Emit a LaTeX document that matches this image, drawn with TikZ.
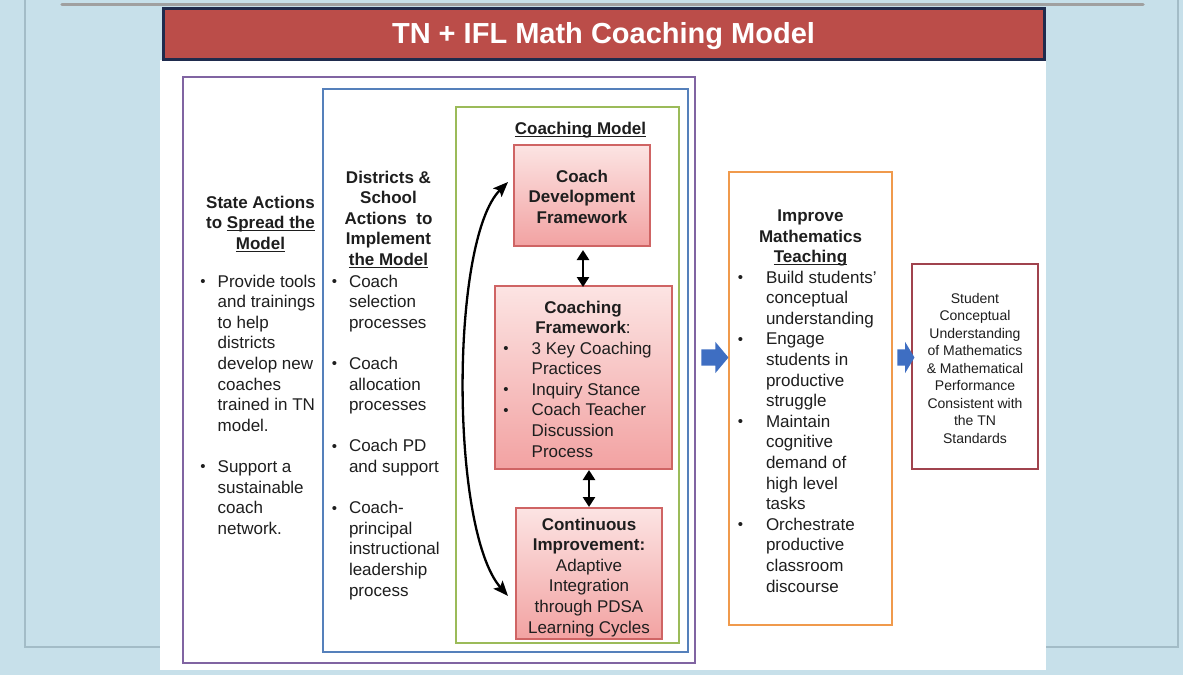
\documentclass[tikz,border=0pt]{standalone}
\usepackage{fontspec}
\setmainfont{Liberation Sans}
\usetikzlibrary{arrows.meta,shapes.arrows,calc}
\definecolor{bg}{HTML}{C7E0EA}
\definecolor{framel}{HTML}{A3BCC7}
\definecolor{topbar}{HTML}{A0A0A0}
\definecolor{titlered}{HTML}{BB4D49}
\definecolor{navy}{HTML}{1F2B4D}
\definecolor{purplef}{HTML}{8064A2}
\definecolor{bluef}{HTML}{5580BB}
\definecolor{greenf}{HTML}{9BBB59}
\definecolor{orangef}{HTML}{F09A4C}
\definecolor{maroonf}{HTML}{A0434D}
\definecolor{pinkE}{HTML}{CF6464}
\definecolor{pinkT}{HTML}{FCE4E3}
\definecolor{pinkB}{HTML}{F2A2A2}
\definecolor{arrowblue}{HTML}{3E6EC2}
\definecolor{txt}{HTML}{1E1E1E}
\newcommand\myul[1]{\setbox0\hbox{#1}\rlap{\rule[-2.6pt]{\wd0}{1.1pt}}\box0}
\newcommand\bul[1][12pt]{\llap{\raisebox{0.5pt}{\fontsize{15}{15}\selectfont\textbullet}\hspace{#1}}}
\begin{document}
\begin{tikzpicture}[x=1pt,y=-1pt,
  body/.style={inner sep=0pt,outer sep=0pt,font=\fontsize{17}{20.6}\selectfont,text=txt,align=left,anchor=north west},
  head/.style={inner sep=0pt,outer sep=0pt,font=\fontsize{17}{20.6}\selectfont\bfseries,text=txt,align=center,anchor=north},
  pinkbox/.style={draw=pinkE,line width=1.2pt,top color=pinkT,bottom color=pinkB,inner sep=0pt,outer sep=0pt},
  dbl/.style={{Triangle[length=10pt,width=12pt]}-{Triangle[length=10pt,width=12pt]},line width=2.5pt,draw=black},
  curv/.style={{Stealth[length=15pt,width=12pt,inset=3pt]}-{Stealth[length=15pt,width=12pt,inset=3pt]},line width=2.3pt,draw=black},
  blockarrow/.style={single arrow,fill=arrowblue,draw=none,inner xsep=0pt,inner ysep=8pt,outer sep=0pt,single arrow head extend=7.5pt}
]
\useasboundingbox (0,0) rectangle (1183,675);
% background slide
\fill[bg] (0,0) rectangle (1183,675);
\draw[framel,line width=1.2pt] (25,0) -- (25,647) -- (1178,647) -- (1178,0);
\draw[topbar,line width=3.5pt,line cap=round] (62,4.5) -- (1143,4.5);
\fill[white] (160,60) rectangle (1046,670);
% title
\node[draw=navy,line width=3pt,fill=titlered,minimum width=881pt,minimum height=51pt,inner sep=0pt] (title) at (603.5,34) {};
\node[anchor=base,inner sep=0pt,text=white,font=\fontsize{29}{30}\selectfont\bfseries] (titleT) at (603.5,43.5) {TN + IFL Math Coaching Model};
% frames
\draw[purplef,line width=2pt] (183,77) rectangle (695,663);
\draw[bluef,line width=2pt] (323,89) rectangle (688,652);
\draw[greenf,line width=2pt] (456,107) rectangle (679,643);
\draw[orangef,line width=2.5pt] (729,172) rectangle (892,625);
\draw[maroonf,line width=2pt] (912,264) rectangle (1038,469);
% left column
\node[head] (stH) at (260.5,193.6) {\strut State Actions\\to \myul{Spread the}\\\myul{Model}};
\node[body] (stL) at (217.7,272.6) {\strut\bul Provide tools\\and trainings\\to help\\districts\\develop new\\coaches\\trained in TN\\model.\\[20.6pt]\bul Support a\\sustainable\\coach\\network.};
% districts column
\node[head] (dsH) at (388.5,168.6) {\strut Districts \&\\School\\Actions\ \ to\\Implement\\\myul{the Model}};
\node[body] (dsL) at (349,272.6) {\strut\bul Coach\\selection\\processes\\[20.6pt]\bul Coach\\allocation\\processes\\[20.6pt]\bul Coach PD\\and support\\[20.6pt]\bul Coach-\\principal\\instructional\\leadership\\process};
% coaching model
\node[head] (cmT) at (580.5,119.6) {\strut\myul{Coaching Model}};
\node[pinkbox,minimum width=136pt,minimum height=101pt] (b1) at (582,195.5) {};
\node[pinkbox,minimum width=177pt,minimum height=183pt] (b2) at (583.5,377.5) {};
\node[pinkbox,minimum width=146pt,minimum height=131pt] (b3) at (589,573.5) {};
\node[head] (b1T) at (582,167.6) {\strut Coach\\Development\\Framework};
\node[head] (b2H) at (583,298.6) {\strut Coaching\\Framework{\mdseries:}};
\node[body] (b2L) at (531.7,339.6) {\strut\bul[23pt]3 Key Coaching\\Practices\\\bul[23pt]Inquiry Stance\\\bul[23pt]Coach Teacher\\Discussion\\Process};
\node[body,align=center,anchor=north] (b3T) at (589,515.6) {\strut\textbf{Continuous}\\\textbf{Improvement:}\\Adaptive\\Integration\\through PDSA\\Learning Cycles};
\draw[dbl] ($(b1.south)+(1,4)$) -- ($(b2.north)+(-0.5,1)$);
\draw[dbl] ($(b2.south)+(5.5,1)$) -- ($(b3.north)+(0,-1)$);
\coordinate (cA) at (508,182);
\coordinate (cB) at (508,596);
\draw[curv] (cA) .. controls (450,240) and (450,530) .. (cB);
% orange column
\node[head] (orH) at (810.5,207.1) {\strut Improve\\Mathematics\\\myul{Teaching}};
\node[body] (orL) at (766,268.6) {\strut\bul[23pt]Build students'\\conceptual\\understanding\\\bul[23pt]Engage\\students in\\productive\\struggle\\\bul[23pt]Maintain\\cognitive\\demand of\\high level\\tasks\\\bul[23pt]Orchestrate\\productive\\classroom\\discourse};
% result box
\node[inner sep=0pt,font=\fontsize{14}{17.5}\selectfont,text=txt,align=center,anchor=north] (res) at (975,290.75) {\strut Student\\Conceptual\\Understanding\\of Mathematics\\\& Mathematical\\Performance\\Consistent with\\the TN\\Standards};
% block arrows
\node[blockarrow,minimum height=27pt,single arrow tip angle=100] (ar1) at (711.5,357.5) {};
\node[blockarrow,minimum height=17pt,single arrow tip angle=118] (ar2) at (903.5,357.5) {};
\end{tikzpicture}
\end{document}
